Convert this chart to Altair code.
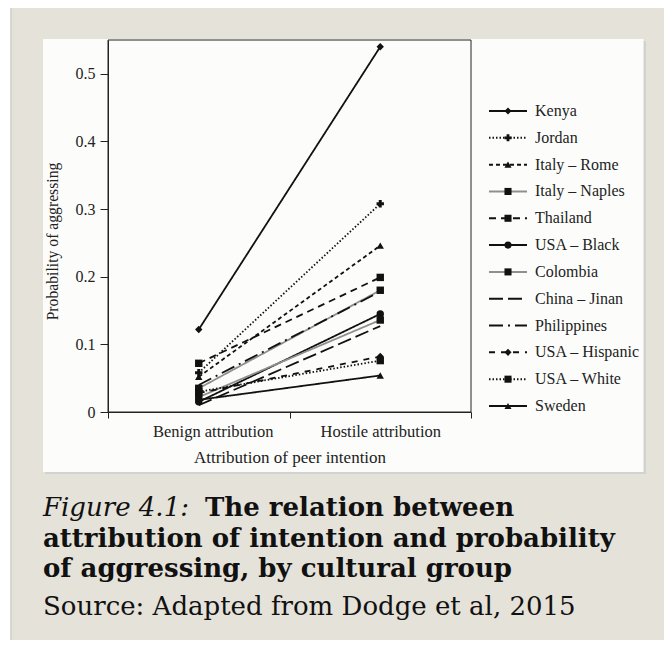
import altair as alt
import pandas as pd

# ---------------- data ----------------
series = ["Kenya", "Jordan", "Italy – Rome", "Italy – Naples", "Thailand",
          "USA – Black", "Colombia", "China – Jinan", "Philippines",
          "USA – Hispanic", "USA – White", "Sweden"]
conditions = ["Benign attribution", "Hostile attribution"]
benign = [0.122, 0.058, 0.052, 0.035, 0.072, 0.015, 0.022, 0.010, 0.040, 0.028, 0.030, 0.018]
hostile = [0.540, 0.308, 0.246, 0.180, 0.199, 0.145, 0.136, 0.127, 0.178, 0.082, 0.076, 0.054]
y_ticks = [0, 0.1, 0.2, 0.3, 0.4, 0.5]

# ---------------- styles ----------------
dashes = [[1, 0], [1.5, 2], [4, 3], [1, 0], [7, 5], [1, 0], [1, 0],
          [14, 5], [14, 5, 2, 5], [6, 6], [1.5, 2], [1, 0]]
line_colors = ["#111", "#111", "#111", "#8f8f8f", "#111", "#111", "#8f8f8f",
               "#111", "#111", "#111", "#111", "#111"]
shapes = ["diamond", "cross", "triangle-up", "square", "square", "circle", "square",
          None, None, "diamond", "square", "triangle-up"]

SERIF = "Liberation Serif"
CAP = "DejaVu Serif"
W, H = 363, 372

rows = []
for s, b, h in zip(series, benign, hostile):
    rows.append({"series": s, "cond": conditions[0], "p": b})
    rows.append({"series": s, "cond": conditions[1], "p": h})
df = pd.DataFrame(rows)
marked = [s for s, sh in zip(series, shapes) if sh]
df_pts = df[df["series"].isin(marked)]
leg = pd.DataFrame({"series": series})
leg_pts = leg[leg["series"].isin(marked)]
one = pd.DataFrame({"a": [0]})

dash_scale = alt.Scale(domain=series, range=dashes)
color_scale = alt.Scale(domain=series, range=line_colors)
shape_scale = alt.Scale(domain=marked, range=[sh for sh in shapes if sh])

y_scale = alt.Scale(domain=[0, 0.55], nice=False, zero=True)

# background panel
shadow = alt.Chart(one).mark_rect(fill="#d2d2ce").encode(
    x=alt.value(-63), x2=alt.value(538), y=alt.value(1), y2=alt.value(434))
panel = alt.Chart(one).mark_rect(fill="#fcfdfb").encode(
    x=alt.value(-65), x2=alt.value(535.5), y=alt.value(-1), y2=alt.value(432))
side_white = alt.Chart(one).mark_rect(fill="#ffffff").encode(
    x=alt.value(-100), x2=alt.value(-97.5), y=alt.value(-32), y2=alt.value(600))
side_line = alt.Chart(one).mark_rule(stroke="#cfcfcb", strokeWidth=1.5).encode(
    x=alt.value(-97), y=alt.value(-32), y2=alt.value(600))

lines = alt.Chart(df).mark_line(strokeWidth=1.8).encode(
    x=alt.X("cond:N",
            scale=alt.Scale(type="band", domain=conditions, paddingInner=0, paddingOuter=0),
            title="Attribution of peer intention",
            axis=alt.Axis(tickBand="extent", labelAngle=0, tickSize=6, labelPadding=5,
                          labelFont=SERIF, labelFontSize=16.5, labelColor="#222",
                          labelOffset={"condition": {"test": "datum.label == 'Benign attribution'", "value": 14}, "value": 0},
                          titleFont=SERIF, titleFontSize=17, titleFontWeight="normal",
                          titleColor="#222", titlePadding=10, domainColor="#222",
                          tickColor="#222", zindex=1)),
    y=alt.Y("p:Q", scale=y_scale, title="Probability of aggressing",
            axis=alt.Axis(values=y_ticks, format="~g", grid=False, tickSize=8,
                          labelPadding=5, labelFont=SERIF, labelFontSize=16,
                          labelColor="#222", titleFont=SERIF, titleFontSize=15.7,
                          titleFontWeight="normal", titleColor="#222",
                          titleX=-51, titleY=201, titleAngle=-90,
                          titleBaseline="alphabetic", domainColor="#222",
                          tickColor="#222", zindex=1)),
    detail="series:N",
    strokeDash=alt.StrokeDash("series:N", scale=dash_scale, legend=None),
    color=alt.Color("series:N", scale=color_scale, legend=None),
)

points = alt.Chart(df_pts).mark_point(filled=True, opacity=1, size=55, color="#111").encode(
    x=alt.X("cond:N", scale=alt.Scale(type="band", domain=conditions, paddingInner=0, paddingOuter=0), axis=None),
    y=alt.Y("p:Q", scale=y_scale, axis=None),
    shape=alt.Shape("series:N", scale=shape_scale, legend=None),
)

frame = alt.Chart(one).mark_rect(fillOpacity=0, stroke="#222", strokeWidth=1).encode(
    x=alt.value(0), x2=alt.value(W), y=alt.value(0), y2=alt.value(H))

leg_y = alt.Y("series:N", scale=alt.Scale(type="point", domain=series, range=[71, 366], padding=0), axis=None)
leg_lines = alt.Chart(leg).mark_rule(strokeWidth=2).encode(
    x=alt.value(381), x2=alt.value(419), y=leg_y,
    strokeDash=alt.StrokeDash("series:N", scale=dash_scale, legend=None),
    color=alt.Color("series:N", scale=color_scale, legend=None),
)
leg_points = alt.Chart(leg_pts).mark_point(filled=True, opacity=1, size=50, color="#111").encode(
    x=alt.value(400), y=leg_y,
    shape=alt.Shape("series:N", scale=shape_scale, legend=None),
)
leg_text = alt.Chart(leg).mark_text(align="left", baseline="middle", font=SERIF,
                                    fontSize=16, color="#222").encode(
    x=alt.value(427), y=leg_y, text="series:N")

def cap(txt, x, y, **kw):
    return alt.Chart(one).mark_text(text=txt, align="left", baseline="alphabetic",
                                    font=CAP, fontSize=26, color="#111", **kw).encode(
        x=alt.value(x), y=alt.value(y))

caption = [
    cap("Figure 4.1:", -65, 476, fontStyle="italic"),
    cap("The relation between", 97, 476, fontWeight="bold"),
    cap("attribution of intention and probability", -65, 507, fontWeight="bold"),
    cap("of aggressing, by cultural group", -65, 537, fontWeight="bold"),
    cap("Source: Adapted from Dodge et al, 2015", -65, 575),
]

chart = alt.layer(
    side_white, side_line, shadow, panel, lines, points, frame,
    leg_lines, leg_points, leg_text, *caption
).resolve_scale(
    x="independent", y="independent"
).properties(
    width=W, height=H,
    background="#e5e2d9",
    autosize=alt.AutoSizeParams(type="none"),
    padding={"left": 100, "top": 32, "right": 193, "bottom": 228},
).configure_view(stroke=None)

chart.save("out.html", embed_options={"renderer": "svg", "actions": False})
